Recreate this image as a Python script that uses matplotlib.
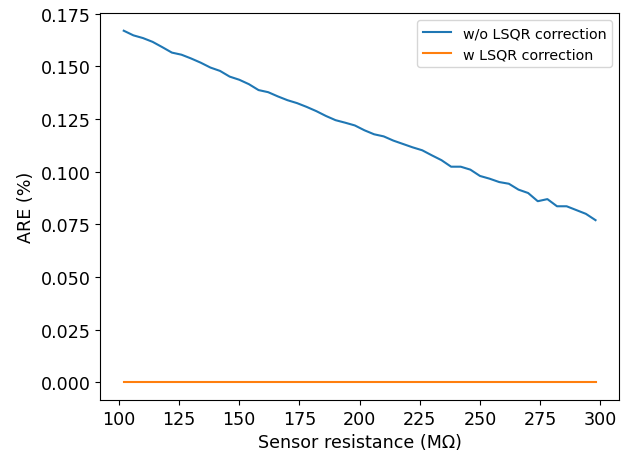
import matplotlib
matplotlib.use('Agg')
import matplotlib.pyplot as plt
import numpy as np

# sensor resistance values (MOhm)
resistance = np.arange(102, 299, 4)
# average relative error without / with LSQR correction
are_wo = [0.1670, 0.1648, 0.1635, 0.1617, 0.1592, 0.1566, 0.1556, 0.1538, 0.1518, 0.1495,
          0.1479, 0.1452, 0.1437, 0.1416, 0.1388, 0.1378, 0.1358, 0.1340, 0.1326, 0.1308,
          0.1288, 0.1265, 0.1245, 0.1233, 0.1220, 0.1197, 0.1178, 0.1168, 0.1148, 0.1132,
          0.1116, 0.1102, 0.1078, 0.1055, 0.1024, 0.1024, 0.1010, 0.0980, 0.0967, 0.0951,
          0.0943, 0.0915, 0.0899, 0.0860, 0.0870, 0.0836, 0.0836, 0.0818, 0.0800, 0.0770]
are_w = [0.0] * len(resistance)

fig = plt.figure(figsize=(6.26, 4.56), dpi=100)
ax = fig.add_subplot(1, 1, 1)
fig.subplots_adjust(left=0.16, right=0.989, top=0.969, bottom=0.121)

ax.plot(resistance, are_wo, label='w/o LSQR correction')
ax.plot(resistance, are_w, label='w LSQR correction')
ax.set_xlabel('Sensor resistance (MΩ)', fontsize=12.6)
ax.set_ylabel('ARE (%)', fontsize=12.6)
ax.tick_params(labelsize=12.6)
ax.set_yticks(np.arange(0, 0.176, 0.025))
ax.legend(loc='upper right', fontsize=10.3)

fig.savefig('out.png', dpi=100)
